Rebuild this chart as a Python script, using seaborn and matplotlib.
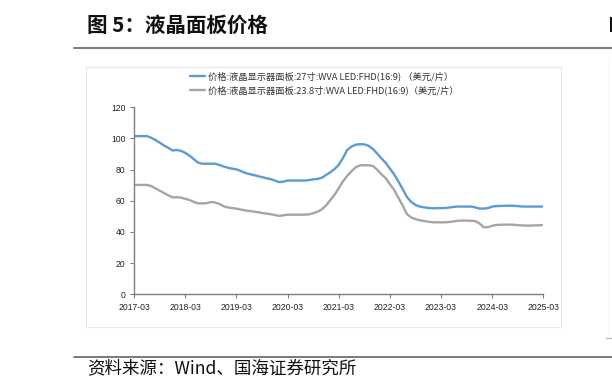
import numpy as np
import pandas as pd
import matplotlib
matplotlib.use("Agg")
import matplotlib.pyplot as plt
import matplotlib.dates as mdates
from matplotlib.lines import Line2D
from matplotlib.patches import Rectangle
import seaborn as sns

# ---------------- data ----------------
months = pd.date_range("2017-03-01", "2025-03-01", freq="MS")

price_27 = [
    101.5, 101.5, 101.5, 101.5, 100.5, 99.0, 97.3, 95.5, 94.0, 92.3,
    92.6, 92.0, 90.8, 89.0, 86.8, 84.5, 83.8, 83.8, 83.8, 83.8,
    83.0, 82.0, 81.2, 80.6, 80.2, 79.2, 78.0, 77.2, 76.6, 75.9,
    75.2, 74.5, 73.9, 73.0, 72.0, 72.3, 73.0, 73.0, 73.0, 73.0,
    73.0, 73.3, 73.8, 74.0, 74.8, 76.6, 78.3, 80.5, 83.0, 87.5,
    92.6, 94.8, 96.0, 96.3, 96.2, 95.3, 93.2, 90.3, 87.2, 84.2,
    80.8, 77.0, 72.5, 67.5, 62.5, 59.3, 57.3, 56.3, 55.8, 55.4,
    55.2, 55.3, 55.3, 55.4, 55.7, 56.1, 56.3, 56.3, 56.3, 56.3,
    55.8, 55.0, 55.0, 55.3, 56.3, 56.6, 56.7, 56.8, 56.9, 56.8,
    56.6, 56.3, 56.3, 56.3, 56.3, 56.3, 56.4,
]

price_238 = [
    70.2, 70.2, 70.2, 70.2, 69.5, 68.0, 66.5, 65.0, 63.5, 62.2,
    62.3, 62.0, 61.3, 60.5, 59.3, 58.4, 58.3, 58.5, 59.2, 58.9,
    58.0, 56.5, 55.7, 55.3, 55.0, 54.4, 53.9, 53.5, 53.1, 52.7,
    52.2, 51.8, 51.4, 50.9, 50.3, 50.7, 51.1, 51.1, 51.1, 51.1,
    51.1, 51.3, 52.0, 53.0, 54.5, 57.0, 60.5, 64.0, 68.0, 72.5,
    76.0, 79.0, 81.5, 82.8, 82.8, 82.8, 82.3, 80.0, 77.0, 74.4,
    70.8, 67.0, 62.0, 57.0, 51.5, 49.3, 48.2, 47.5, 47.0, 46.6,
    46.2, 46.2, 46.2, 46.2, 46.4, 46.8, 47.2, 47.3, 47.3, 47.2,
    47.0, 45.5, 43.0, 43.1, 44.0, 44.5, 44.6, 44.7, 44.7, 44.6,
    44.4, 44.2, 44.1, 44.1, 44.2, 44.3, 44.5,
]

series_names = [
    "价格:液晶显示器面板:27寸:WVA LED:FHD(16:9) （美元/片）",
    "价格:液晶显示器面板:23.8寸:WVA LED:FHD(16:9)（美元/片）",
]
series_colors = ["#5B9BD5", "#A5A5A5"]

x_tick_labels = ["2017-03", "2018-03", "2019-03", "2020-03", "2021-03",
                 "2022-03", "2023-03", "2024-03", "2025-03"]
y_ticks = [0, 20, 40, 60, 80, 100, 120]

title_text = "图 5：液晶面板价格"
source_text = "资料来源：Wind、国海证券研究所"

# ---------------- frame ----------------
df = pd.concat([
    pd.DataFrame({"date": months, "value": price_27, "series": series_names[0]}),
    pd.DataFrame({"date": months, "value": price_238, "series": series_names[1]}),
], ignore_index=True)

sns.set_theme(style="white")
plt.rcParams["font.family"] = ["Noto Sans CJK SC", "DejaVu Sans"]

W, H = 612, 390
fig = plt.figure(figsize=(W / 100, H / 100), dpi=100)
fig.patch.set_facecolor("white")

def fx(px):
    return px / W

def fy(py):
    return 1 - py / H

left, right, top, bottom = 134, 543.3, 107.3, 294.3
ax = fig.add_axes([fx(left), fy(bottom), fx(right) - fx(left), fy(top) - fy(bottom)])

sns.lineplot(data=df, x="date", y="value", hue="series", hue_order=series_names,
             palette=series_colors, linewidth=1.7, legend=False, ax=ax)

ax.set_xlim(months[0], months[-1])
ax.set_ylim(0, 120)
ax.set_yticks(y_ticks)
ax.set_yticklabels([str(v) for v in y_ticks])
tick_dates = pd.to_datetime([s + "-01" for s in x_tick_labels])
ax.set_xticks(tick_dates)
ax.set_xticklabels(x_tick_labels)
ax.set_xlabel("")
ax.set_ylabel("")

for s in ["top", "right"]:
    ax.spines[s].set_visible(False)
for s in ["left", "bottom"]:
    ax.spines[s].set_color("#7f7f7f")
    ax.spines[s].set_linewidth(1.0)

ax.tick_params(axis="both", which="major", direction="out", length=3, width=0.8,
               color="#7f7f7f", labelsize=6.2, labelcolor="#222222", pad=3,
               left=True, bottom=True)
for lab in ax.get_xticklabels() + ax.get_yticklabels():
    lab.set_fontfamily(["Liberation Sans", "DejaVu Sans"])

# legend
handles = [Line2D([], [], color=c, lw=1.7) for c in series_colors]
leg = fig.legend(handles, series_names, loc="center left",
                 bbox_to_anchor=(fx(190), fy(83.5)), frameon=False,
                 fontsize=6.7, handlelength=1.65, handletextpad=0.25,
                 labelspacing=0.45, borderpad=0, borderaxespad=0)
for t in leg.get_texts():
    t.set_color("#333333")

# chart frame
fig.patches.append(Rectangle((fx(85.5), fy(326.7)), fx(560.5) - fx(85.5), fy(66.7) - fy(326.7),
                             transform=fig.transFigure, fill=False,
                             edgecolor="#e6e6e6", linewidth=0.8))

# page edge remnants on the right
fig.add_artist(Line2D([fx(609), fx(609)], [fy(60), fy(338)], transform=fig.transFigure,
                      color="#f4f4f4", lw=0.6))
fig.add_artist(Line2D([fx(606), 1.0], [fy(338), fy(338)], transform=fig.transFigure,
                      color="#bdbdbd", lw=1.0))
fig.patches.append(Rectangle((fx(610.3), fy(32)), fx(1.7), fy(17) - fy(32),
                             transform=fig.transFigure, color="#111111", lw=0))

# title and rules
fig.text(fx(87), fy(25), title_text, fontsize=14.8, fontweight="bold",
         color="#111111", va="center", ha="left")
fig.add_artist(Line2D([fx(74), 1.0], [fy(47.6), fy(47.6)], transform=fig.transFigure,
                      color="#6e6e6e", lw=1.3))
fig.add_artist(Line2D([fx(74), 1.0], [fy(357), fy(357)], transform=fig.transFigure,
                      color="#6e6e6e", lw=1.3))
fig.text(fx(87), fy(368), source_text, fontsize=12.6, color="#111111",
         va="center", ha="left")

fig.savefig("out.png", dpi=100, facecolor="white")
